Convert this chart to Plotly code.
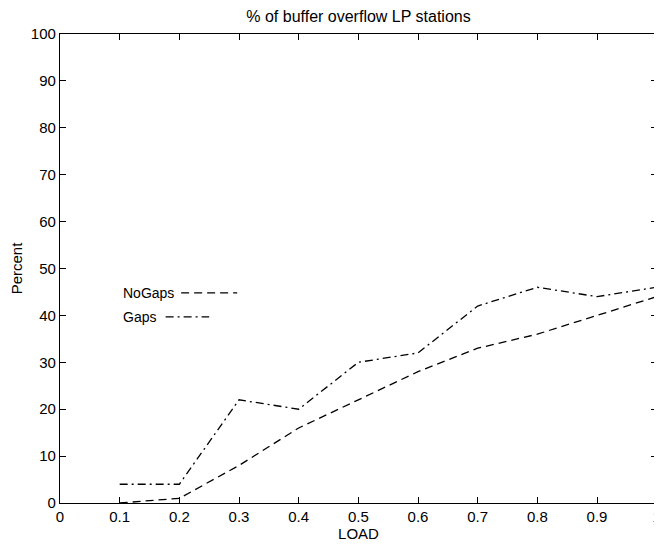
import plotly.graph_objects as go

load = [0.1, 0.2, 0.3, 0.4, 0.5, 0.6, 0.7, 0.8, 0.9, 1.0]
nogaps = [0, 1, 8, 16, 22, 28, 33, 36, 40, 44]
gaps = [4, 4, 22, 20, 30, 32, 42, 46, 44, 46]
x_ticks = [0, 0.1, 0.2, 0.3, 0.4, 0.5, 0.6, 0.7, 0.8, 0.9, 1]
x_labels = ["0", "0.1", "0.2", "0.3", "0.4", "0.5", "0.6", "0.7", "0.8", "0.9", "1"]
y_ticks = [0, 10, 20, 30, 40, 50, 60, 70, 80, 90, 100]

FONT = "Liberation Sans, Arial, Helvetica, sans-serif"
dash_nogaps = "8px,5px"
dash_gaps = "8px,4px,2px,4px"

fig = go.Figure()
fig.add_trace(go.Scatter(x=load, y=nogaps, mode="lines", name="NoGaps",
                         line=dict(color="black", width=1.3, dash=dash_nogaps)))
fig.add_trace(go.Scatter(x=load, y=gaps, mode="lines", name="Gaps",
                         line=dict(color="black", width=1.3, dash=dash_gaps)))

# legend-like text with line samples
fig.add_annotation(x=0.106, y=44.8, xref="x", yref="y", text="NoGaps", showarrow=False,
                   xanchor="left", yanchor="middle", xshift=-2,
                   font=dict(family=FONT, size=14, color="black"))
fig.add_annotation(x=0.106, y=39.7, xref="x", yref="y", text="Gaps", showarrow=False,
                   xanchor="left", yanchor="middle", xshift=-2,
                   font=dict(family=FONT, size=14, color="black"))
fig.add_shape(type="line", xref="x", yref="y", x0=0.203, x1=0.297, y0=44.8, y1=44.8,
              line=dict(color="black", width=1.3, dash=dash_nogaps))
fig.add_shape(type="line", xref="x", yref="y", x0=0.177, x1=0.25, y0=39.7, y1=39.7,
              line=dict(color="black", width=1.3, dash=dash_gaps))

# page body has an 8px default margin, so the figure is sized to fit the window
fig.update_layout(
    width=654, height=536,
    margin=dict(l=52, r=5, t=26, b=41),
    paper_bgcolor="white", plot_bgcolor="white",
    showlegend=False,
    font=dict(family=FONT, size=15, color="black"),
    title=dict(text="% of buffer overflow LP stations", x=0.5, xref="paper",
               y=1 - 8 / 536, yref="container", xanchor="center", yanchor="middle",
               font=dict(family=FONT, size=16, color="black")),
)
fig.update_xaxes(range=[0, 1.0005], tickvals=x_ticks, ticktext=x_labels, ticks="inside", ticklen=6,
                 tickcolor="black", showline=True, linecolor="black", linewidth=1.2, mirror="ticks",
                 showgrid=False, zeroline=False, automargin=False, ticklabeloverflow="allow",
                 title=dict(text="LOAD", standoff=0, font=dict(family=FONT, size=15)),
                 tickfont=dict(family=FONT, size=15))
fig.update_yaxes(range=[0, 100], tickvals=y_ticks, ticks="inside", ticklen=6,
                 tickcolor="black", showline=True, linecolor="black", linewidth=1.2, mirror="ticks",
                 showgrid=False, zeroline=False, automargin=False,
                 title=dict(text="Percent", standoff=4, font=dict(family=FONT, size=15)),
                 tickfont=dict(family=FONT, size=15))

fig.write_html("out.html")
